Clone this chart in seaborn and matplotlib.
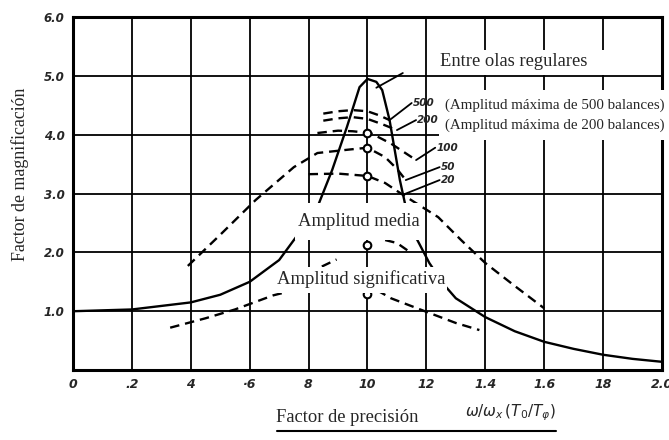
import numpy as np
import matplotlib
matplotlib.use("Agg")
import matplotlib.pyplot as plt
from matplotlib.lines import Line2D
from matplotlib.patches import Rectangle
import seaborn as sns

sns.set_style("white")
plt.rcParams['font.family'] = ['Liberation Serif', 'DejaVu Serif']

# curva entre olas regulares (trazo continuo)
reg_x = [0, 0.2, 0.4, 0.5, 0.6, 0.7, 0.75, 0.8, 0.83, 0.88, 0.93, 0.973, 1.0, 1.03, 1.05,
         1.075, 1.11, 1.13, 1.16, 1.21, 1.26, 1.3, 1.4, 1.5, 1.6, 1.7, 1.8, 1.9, 2.0]
reg_y = [1.0, 1.03, 1.15, 1.28, 1.5, 1.87, 2.21, 2.55, 2.77, 3.4, 4.13, 4.81, 4.95, 4.9, 4.76,
         4.25, 3.23, 2.77, 2.3, 1.82, 1.45, 1.22, 0.9, 0.66, 0.48, 0.36, 0.26, 0.19, 0.14]

# curvas en olas irregulares (trazo discontinuo)
c500_x = [0.85, 0.9, 0.95, 1.0, 1.04, 1.075]
c500_y = [4.36, 4.40, 4.42, 4.40, 4.33, 4.25]
c200_x = [0.85, 0.9, 0.95, 1.0, 1.05, 1.10]
c200_y = [4.24, 4.28, 4.30, 4.27, 4.18, 4.08]
c100_x = [0.83, 0.9, 0.95, 1.01, 1.08, 1.165]
c100_y = [4.03, 4.07, 4.06, 4.03, 3.85, 3.57]
c50_x = [0.39, 0.5, 0.62, 0.75, 0.83, 0.94, 1.0, 1.06, 1.10, 1.13]
c50_y = [1.77, 2.3, 2.89, 3.45, 3.69, 3.75, 3.78, 3.62, 3.42, 3.23]
c20_x = [0.8, 0.9, 1.0, 1.06, 1.12, 1.24, 1.32, 1.4, 1.5, 1.6]
c20_y = [3.33, 3.34, 3.30, 3.18, 2.98, 2.6, 2.2, 1.82, 1.43, 1.05]
# amplitud media: solo quedan trozos visibles
media_izq_x = [0.845, 0.895]
media_izq_y = [1.76, 1.88]
media_der_x = [1.06, 1.10, 1.14]
media_der_y = [2.21, 2.16, 2.02]
signif_x = [0.33, 0.45, 0.55, 0.68, 0.8, 0.9, 1.0, 1.08, 1.2, 1.3, 1.38]
signif_y = [0.72, 0.88, 1.03, 1.27, 1.42, 1.48, 1.45, 1.22, 0.99, 0.80, 0.68]

# puntos medidos en w/wx = 1.0
pts_x = [1.0, 1.0, 1.0, 1.0, 1.0]
pts_y = [4.03, 3.78, 3.30, 2.13, 1.29]

xticks = [0, 0.2, 0.4, 0.6, 0.8, 1.0, 1.2, 1.4, 1.6, 1.8, 2.0]
xlabels = ['0', '.2', '4', '·6', '8', '10', '12', '1.4', '1.6', '18', '2.0']
yticks = [1, 2, 3, 4, 5, 6]
ylabels = ['1.0', '2.0', '3.0', '4.0', '5.0', '6.0']

fig = plt.figure(figsize=(6.69, 4.40), dpi=100)
ax = fig.add_axes([0.1091, 0.159, 0.8804, 0.802])

sns.lineplot(x=reg_x, y=reg_y, ax=ax, color='k', lw=1.7, zorder=3)
dash = (4, 2.5)
for cx, cy in [(c500_x, c500_y), (c200_x, c200_y), (c100_x, c100_y), (c50_x, c50_y),
               (c20_x, c20_y), (media_izq_x, media_izq_y), (media_der_x, media_der_y),
               (signif_x, signif_y)]:
    sns.lineplot(x=cx, y=cy, ax=ax, color='k', lw=1.7, linestyle=(0, dash), zorder=3)
sns.scatterplot(x=pts_x, y=pts_y, ax=ax, s=30, marker='o', facecolor='white',
                edgecolor='k', linewidth=1.5, zorder=4)

ax.set_xlim(0, 2.0)
ax.set_ylim(0, 6.0)
ax.set_xticks(xticks)
ax.set_xticklabels(xlabels, family='DejaVu Sans', style='italic', weight='bold', fontsize=9)
ax.set_yticks(yticks)
ax.set_yticklabels(ylabels, family='DejaVu Sans', style='italic', weight='bold', fontsize=8.5)
ax.tick_params(length=0, pad=6)
ax.grid(True, color='k', lw=1.3)
ax.set_axisbelow(True)
for s in ax.spines.values():
    s.set_color('k')
    s.set_linewidth(2.2)

# flechas de las etiquetas
leaders = [((1.03, 4.8), (1.12, 5.05), ''), ((1.075, 4.25), (1.15, 4.54), '500'),
           ((1.10, 4.08), (1.165, 4.25), '200'), ((1.165, 3.57), (1.23, 3.78), '100'),
           ((1.13, 3.23), (1.245, 3.45), '50'), ((1.12, 2.98), (1.245, 3.23), '20')]
for (x0, y0), (x1, y1), lab in leaders:
    ax.plot([x0, x1], [y0, y1], color='k', lw=1.3, zorder=3)
    if lab:
        ax.text(x1 + 0.003, y1, lab, family='DejaVu Sans', style='italic', weight='bold',
                fontsize=7.5, ha='left', va='center', zorder=4)

# zonas blancas que tapan el dibujo bajo los rótulos
for (x0, x1, y0, y1) in [(1.212, 1.806, 5.02, 5.44), (1.242, 2.03, 3.91, 4.76),
                         (0.754, 1.178, 2.21, 2.84), (0.686, 1.27, 1.31, 1.75)]:
    ax.add_patch(Rectangle((x0, y0), x1 - x0, y1 - y0, facecolor='white',
                           edgecolor='none', zorder=5, clip_on=False))

ax.text(1.497, 5.24, 'Entre olas regulares', fontsize=13.3, ha='center', va='center',
        zorder=6)
ax.text(1.635, 4.51, '(Amplitud máxima de 500 balances)', fontsize=10.8, ha='center',
        va='center', zorder=6)
ax.text(1.635, 4.17, '(Amplitud máxima de 200 balances)', fontsize=10.8, ha='center',
        va='center', zorder=6)
ax.text(0.971, 2.53, 'Amplitud media', fontsize=13.4, ha='center', va='center', zorder=6)
ax.text(0.978, 1.55, 'Amplitud significativa', fontsize=13.4, ha='center', va='center',
        zorder=6)

fig.text(20 / 669, 1 - 174 / 440, 'Factor de magnificación', rotation=90, fontsize=12.9,
         ha='center', va='center')
fig.text(347 / 669, 1 - 417 / 440, 'Factor de precisión', fontsize=13.3, ha='center',
         va='center')
fig.text(510 / 669, 1 - 413 / 440, r'$\omega/\omega_x\,(T_0/T_\varphi)$', fontsize=11,
         ha='center', va='center')
fig.add_artist(Line2D([277 / 669, 556 / 669], [1 - 431 / 440, 1 - 431 / 440],
                      color='k', lw=1.5, transform=fig.transFigure))

fig.savefig('out.png', dpi=100)
